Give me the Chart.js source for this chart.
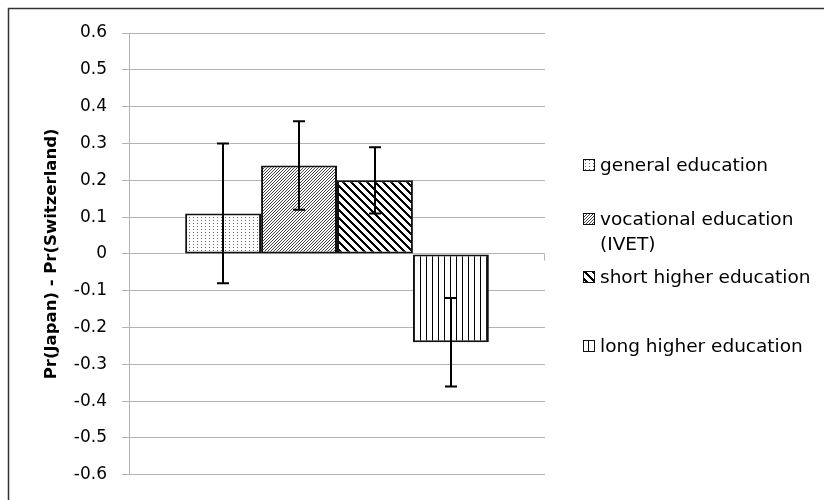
<!DOCTYPE html>
<html><head><meta charset="utf-8">
<script src="https://cdn.jsdelivr.net/npm/chart.js@4/dist/chart.umd.min.js"></script>
<style>html,body{margin:0;padding:0;background:#fff}#wrap{width:824px;height:500px}</style>
</head><body><div id="wrap"><canvas id="c" width="824" height="500"></canvas></div>
<script>
// ---- data ----
const categories = [''];
const seriesNames = ['general education', 'vocational education (IVET)', 'short higher education', 'long higher education'];
const values = [0.11, 0.24, 0.20, -0.24];
const errHigh = [0.30, 0.36, 0.29, -0.12];
const errLow = [-0.08, 0.12, 0.11, -0.36];
const yTickValues = [-0.6, -0.5, -0.4, -0.3, -0.2, -0.1, 0, 0.1, 0.2, 0.3, 0.4, 0.5, 0.6];
const yTickLabels = ['-0.6', '-0.5', '-0.4', '-0.3', '-0.2', '-0.1', '0', '0.1', '0.2', '0.3', '0.4', '0.5', '0.6'];
const patternKinds = ['dots', 'fineUp', 'wideDown', 'vertical'];

// ---- patterns ----
function makePattern(kind) {
  const c = document.createElement('canvas');
  const g = c.getContext('2d');
  function px(x, y, col) { g.fillStyle = col; g.fillRect(x, y, 1, 1); }
  if (kind === 'dots') {
    c.width = 4; c.height = 3;
    g.fillStyle = '#fff'; g.fillRect(0, 0, 4, 3);
    px(1, 1, '#6a6a6a');
  } else if (kind === 'fineUp') {
    c.width = 3; c.height = 3;
    g.fillStyle = '#fff'; g.fillRect(0, 0, 3, 3);
    px(2, 0, '#444'); px(1, 1, '#444'); px(0, 2, '#444');
  } else if (kind === 'wideDown') {
    c.width = 8; c.height = 8;
    g.fillStyle = '#fff'; g.fillRect(0, 0, 8, 8);
    for (let y = 0; y < 8; y++) for (let k = 0; k < 3; k++) px((y + k) % 8, y, '#000');
  } else {
    c.width = 6; c.height = 1;
    g.fillStyle = '#fff'; g.fillRect(0, 0, 6, 1);
    px(0, 0, '#000');
  }
  return g.createPattern(c, 'repeat');
}

const datasets = seriesNames.map((name, i) => ({
  label: name,
  data: [values[i]],
  errHigh: [errHigh[i]],
  errLow: [errLow[i]],
  backgroundColor: makePattern(patternKinds[i]),
  borderColor: '#111',
  borderWidth: 2,
  borderSkipped: false,
  categoryPercentage: 0.73,
  barPercentage: 1.0
}));

const GRID = '#b4b4b4';
const FONT = '"DejaVu Sans", sans-serif';

const framePlugin = {
  id: 'frame',
  beforeDraw(chart) {
    const ctx = chart.ctx;
    ctx.save();
    ctx.strokeStyle = '#333'; ctx.lineWidth = 1.5;
    ctx.beginPath();
    ctx.moveTo(8.5, chart.height); ctx.lineTo(8.5, 8.5); ctx.lineTo(chart.width, 8.5);
    ctx.stroke();
    ctx.restore();
  },
  afterDatasetsDraw(chart) {
    const ctx = chart.ctx, a = chart.chartArea, y0 = Math.round(chart.scales.y.getPixelForValue(0)) + 0.5;
    ctx.save();
    ctx.strokeStyle = GRID; ctx.lineWidth = 1;
    ctx.beginPath();
    ctx.moveTo(Math.round(a.right) - 0.5, y0); ctx.lineTo(Math.round(a.right) - 0.5, y0 + 6);
    ctx.stroke();
    ctx.restore();
  }
};

const errorBars = {
  id: 'errorBars',
  afterDatasetsDraw(chart) {
    const ctx = chart.ctx, ys = chart.scales.y;
    ctx.save();
    ctx.strokeStyle = '#000'; ctx.lineWidth = 2;
    chart.data.datasets.forEach((ds, i) => {
      const meta = chart.getDatasetMeta(i);
      meta.data.forEach((bar, j) => {
        const x = Math.round(bar.x);
        const yh = ys.getPixelForValue(ds.errHigh[j]);
        const yl = ys.getPixelForValue(ds.errLow[j]);
        ctx.beginPath();
        ctx.moveTo(x, yh); ctx.lineTo(x, yl);
        ctx.moveTo(x - 6, yh); ctx.lineTo(x + 6, yh);
        ctx.moveTo(x - 6, yl); ctx.lineTo(x + 6, yl);
        ctx.stroke();
      });
    });
    ctx.restore();
  }
};

const customLegend = {
  id: 'customLegend',
  afterDraw(chart, args, opts) {
    const ctx = chart.ctx, a = chart.chartArea;
    ctx.save();
    ctx.font = opts.font;
    ctx.textBaseline = 'middle';
    ctx.textAlign = 'left';
    const sx = a.right + opts.swatchOffset, tx = a.right + opts.textOffset;
    chart.data.datasets.forEach((ds, i) => {
      const yc = opts.rows[i];
      const words = ds.label.split(' ');
      const lines = [];
      let cur = '';
      words.forEach(w => {
        const t = cur ? cur + ' ' + w : w;
        if (ctx.measureText(t).width > opts.maxWidth && cur) { lines.push(cur); cur = w; } else cur = t;
      });
      lines.push(cur);
      ctx.fillStyle = ds.backgroundColor;
      ctx.fillRect(sx, yc - 6, 12, 12);
      ctx.strokeStyle = '#111'; ctx.lineWidth = 1;
      ctx.strokeRect(sx + 0.5, yc - 5.5, 11, 11);
      ctx.fillStyle = '#000';
      lines.forEach((ln, k) => ctx.fillText(ln, tx, yc + 1 + k * opts.lineHeight));
    });
    ctx.restore();
  }
};

new Chart(document.getElementById('c'), {
  type: 'bar',
  data: { labels: categories, datasets },
  options: {
    responsive: false,
    animation: false,
    layout: { padding: { left: 0, top: 33, right: 279, bottom: 21 } },
    plugins: {
      legend: { display: false },
      tooltip: { enabled: false },
      customLegend: { font: '18.5px ' + FONT, swatchOffset: 38, textOffset: 55, maxWidth: 220, lineHeight: 25, rows: [165, 219, 277, 346] }
    },
    scales: {
      x: { display: false, offset: true },
      y: {
        min: -0.6, max: 0.6,
        afterBuildTicks: s => { s.ticks = yTickValues.map(v => ({ value: v })); },
        afterFit: s => { s.width = 129; },
        ticks: {
          callback: v => yTickLabels[yTickValues.findIndex(t => Math.abs(t - v) < 1e-9)],
          padding: 15, color: '#000', font: { family: FONT, size: 17 }
        },
        grid: { color: GRID, lineWidth: 1, tickLength: 7 },
        border: { color: GRID, width: 1 },
        title: {
          display: true, text: 'Pr(Japan) - Pr(Switzerland)', color: '#000',
          font: { family: FONT, size: 16.5, weight: 'bold' },
          padding: { top: 42, bottom: 0 }
        }
      }
    }
  },
  plugins: [framePlugin, errorBars, customLegend]
});
</script>
</body></html>
